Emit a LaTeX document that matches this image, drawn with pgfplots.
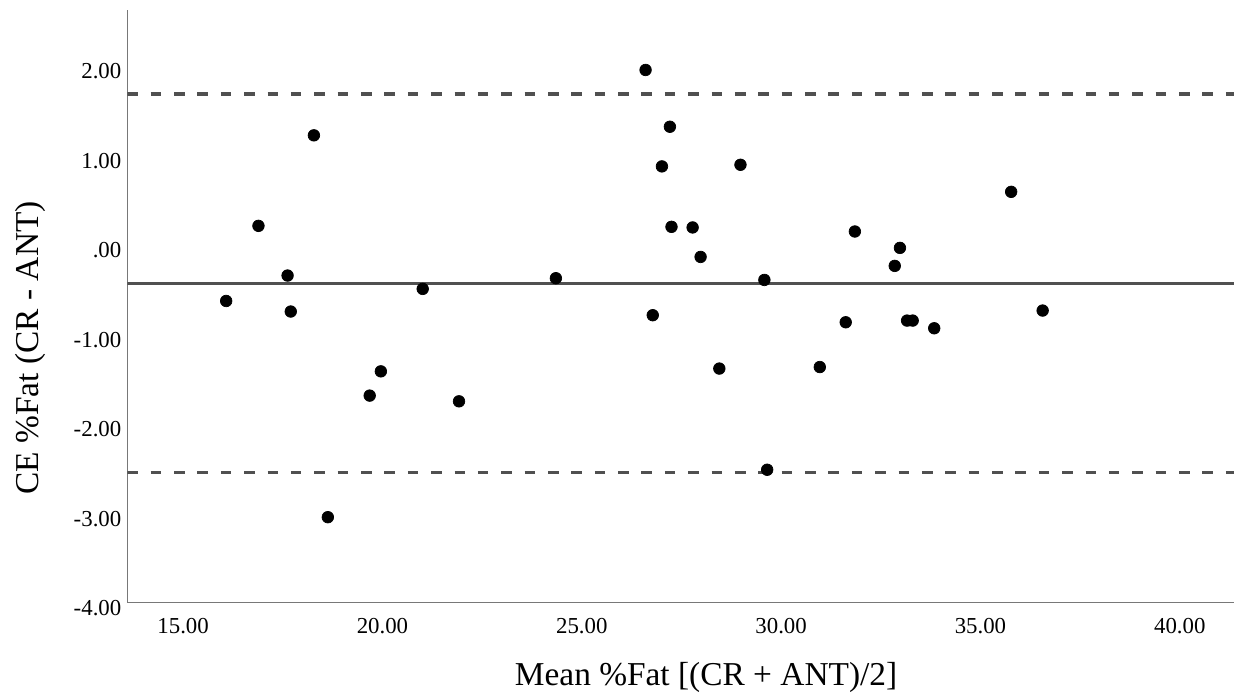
\documentclass[border=0pt]{standalone}
\usepackage{fontspec}
\setmainfont{Liberation Serif}
\usepackage{pgfplots}
\pgfplotsset{compat=1.18}
\definecolor{axisgray}{RGB}{120,120,120}
\definecolor{refgray}{RGB}{80,80,80}

% Bland-Altman: CE - ANT against the mean of CR and ANT
\pgfplotstableread{
x      y
18.28  1.220
16.89  0.209
17.62 -0.346
21.01 -0.495
24.35 -0.376
16.08 -0.630
17.70 -0.748
26.60  1.950
27.21  1.316
27.01  0.873
28.98  0.891
27.25  0.198
27.78  0.191
27.98 -0.138
29.58 -0.395
31.85  0.146
32.98 -0.037
32.85 -0.238
26.78 -0.789
35.77  0.589
19.96 -1.416
19.68 -1.687
21.92 -1.751
18.63 -3.045
28.45 -1.385
30.97 -1.368
31.62 -0.868
33.16 -0.849
33.30 -0.849
33.84 -0.935
29.65 -2.515
36.56 -0.737
}\diffs

\begin{document}
\begin{tikzpicture}
\useasboundingbox (-2.546,-1.866) rectangle (22.234,12.054);
\begin{axis}[
    scale only axis,
    width=22.134cm,
    height=11.854cm,
    xmin=13.6, xmax=41.36,
    ymin=-4, ymax=2.62,
    axis x line*=bottom,
    axis y line*=left,
    axis line style={axisgray, line width=0.9pt, -},
    xtick={15,20,25,30,35,40},
    xticklabels={15.00,20.00,25.00,30.00,35.00,40.00},
    ytick={-4,-3,-2,-1,0,1,2},
    yticklabels={-4.00,-3.00,-2.00,-1.00,.00,1.00,2.00},
    major tick length=0pt,
    tick style={draw=none},
    ticklabel style={font=\fontsize{13}{15}\selectfont, inner sep=0pt},
    xticklabel style={anchor=north, yshift=-8.7pt},
    yticklabel style={anchor=east, xshift=-3.2pt, yshift=-3.2pt},
    xlabel={Mean \%Fat [(CR + ANT)/2]},
    ylabel={CE \%Fat (CR - ANT)},
    label style={font=\fontsize{19}{23}\selectfont},
    xlabel style={at={(axis description cs:0.523,-0.1405)}, anchor=base},
    ylabel style={at={(axis description cs:-0.0798,0.430)}, anchor=base},
]
% limits of agreement and mean difference
\addplot[refgray, line width=1.8pt, dash pattern=on 6pt off 7.3pt] coordinates {(13.6,1.682) (41.36,1.682)};
\addplot[refgray, line width=1.7pt] coordinates {(13.6,-0.434) (41.36,-0.434)};
\addplot[refgray, line width=1.8pt, dash pattern=on 6pt off 7.3pt] coordinates {(13.6,-2.548) (41.36,-2.548)};
% points
\addplot[only marks, mark=*, mark size=3.3pt, black] table[x=x, y=y] {\diffs};
\end{axis}
\end{tikzpicture}
\end{document}
